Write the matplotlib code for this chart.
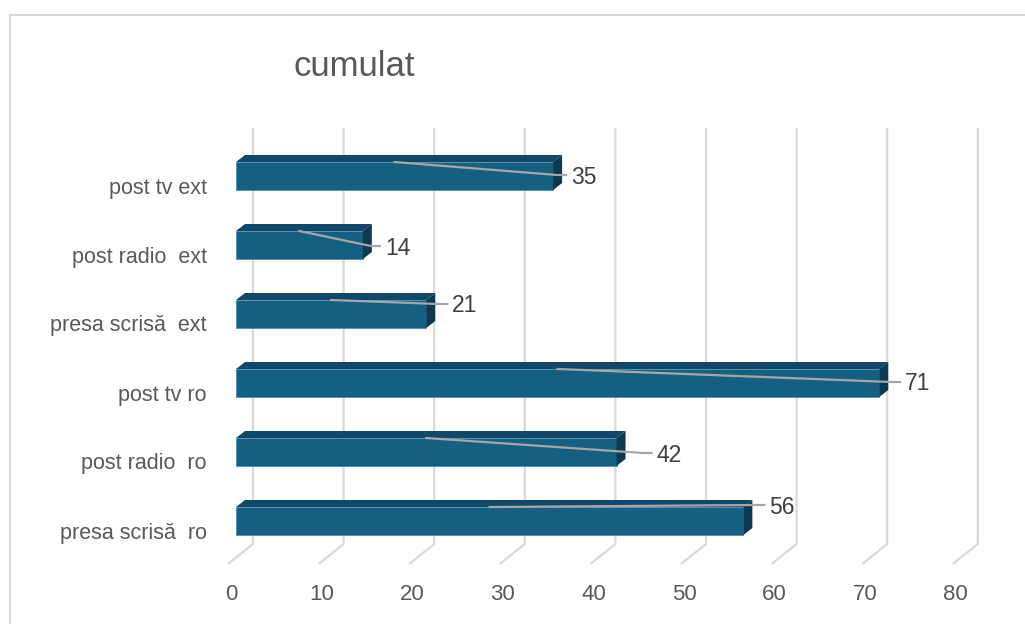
import matplotlib.pyplot as plt
from matplotlib.patches import Polygon
from matplotlib.lines import Line2D
import numpy as np

categories = ['post tv ext', 'post radio  ext', 'presa scrisă  ext',
              'post tv ro', 'post radio  ro', 'presa scrisă  ro']
values = [35, 14, 21, 71, 42, 56]
ticks = [0, 10, 20, 30, 40, 50, 60, 70, 80]
title = 'cumulat'

# label nudges (pixels) as Excel placed them
label_dx_px = [18, 22, 26, 26, 40, 26]
label_dy_px = [-1, 1, -10, -1, 1, -16]

FRONT = '#156082'
TOP = '#10486a'
SIDE = '#0b3a52'
GRID = '#d9d9d9'
TEXT = '#595959'

plt.rcParams['font.family'] = ['Liberation Sans', 'DejaVu Sans']

W, H = 1025, 624
fig = plt.figure(figsize=(W / 100, H / 100), dpi=100)
ax = fig.add_axes([0, 0, 1, 1])

# value 0 sits at x=236px, 9.06px per unit; first row centred at y=176px, 69px per row
X0, PXU = 236, 9.06
Y0, PXR = 176, 69
ax.set_xlim(-X0 / PXU, (W - X0) / PXU)
ax.set_ylim((H - Y0) / PXR, -Y0 / PXR)
ax.axis('off')


def dx(px):
    return px / PXU


def dy(px):
    return px / PXR


rows = np.arange(len(values))
bar_h = dy(28)
depth_x, depth_y = dx(9), dy(7)

# back wall gridlines with floor diagonals
for t in ticks:
    xb = t + dx(17)
    ax.plot([xb, xb, xb - dx(25)], [dy(128 - Y0), dy(544 - Y0), dy(564 - Y0)],
            color=GRID, lw=1.6, zorder=1, solid_capstyle='butt')

# front faces
ax.barh(rows, values, height=bar_h, color=FRONT, edgecolor='#4f8daa',
        linewidth=0.6, zorder=3)

# top and side faces
for r, v in zip(rows, values):
    top = r - bar_h / 2
    bot = r + bar_h / 2
    ax.add_patch(Polygon([(0, top), (v, top), (v + depth_x, top - depth_y),
                          (depth_x, top - depth_y)], closed=True,
                         facecolor=TOP, edgecolor='none', zorder=3))
    ax.add_patch(Polygon([(v, top), (v + depth_x, top - depth_y),
                          (v + depth_x, bot - depth_y), (v, bot)], closed=True,
                         facecolor=SIDE, edgecolor='none', zorder=3))

# data labels with leader lines
for r, v, ddx, ddy in zip(rows, values, label_dx_px, label_dy_px):
    top = r - bar_h / 2
    lx = v + dx(ddx)
    ly = r + dy(ddy)
    ax.plot([v / 2, lx - dx(14), lx - dx(5)], [top, ly, ly],
            color='#a6a6a6', lw=1.6, zorder=4)
    ax.text(lx, ly + dy(2), str(v), ha='left', va='center', fontsize=16.5,
            color='#404040', zorder=5)

# category labels
for r, c in zip(rows, categories):
    ax.text(dx(207 - X0), r + dy(12), c, ha='right', va='center',
            fontsize=15.5, color=TEXT)

# value axis labels
for t in ticks:
    ax.text(t + dx(-5), dy(595 - Y0), str(t), ha='center', va='center',
            fontsize=16, color=TEXT)

ax.text(dx(354 - X0), dy(66 - Y0), title, ha='center', va='center',
        fontsize=25, color=TEXT)

# chart area border
fig.add_artist(Line2D([10 / W, 10 / W], [0, 1 - 15 / H], transform=fig.transFigure,
                      color=GRID, lw=1.5))
fig.add_artist(Line2D([10 / W, 1], [1 - 15 / H, 1 - 15 / H], transform=fig.transFigure,
                      color=GRID, lw=1.5))

plt.savefig('out.png', dpi=100)
